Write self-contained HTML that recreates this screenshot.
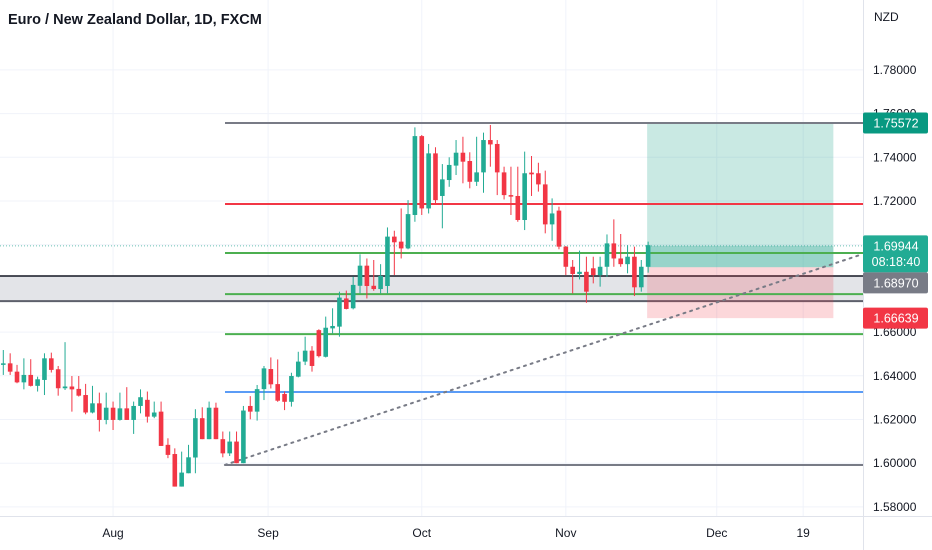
<!DOCTYPE html>
<html><head><meta charset="utf-8">
<style>
html,body{margin:0;padding:0;background:#fff;}
svg{display:block;font-family:"Liberation Sans",Arial,sans-serif;}
</style></head>
<body>
<svg id="chart" width="932" height="550" viewBox="0 0 932 550"></svg>
<script>
// ---- data ----
const opens  = [1.6450,1.6457,1.6419,1.6370,1.6404,1.6354,1.6381,1.6480,1.6430,1.6343,1.6351,1.6340,1.6312,1.6232,1.6274,1.6198,1.6254,1.6198,1.6251,1.6198,1.6262,1.6290,1.6213,1.6236,1.6084,1.6042,1.5893,1.5954,1.6026,1.6206,1.6110,1.6254,1.6110,1.6045,1.6099,1.6000,
1.6262,1.6236,1.6339,1.6431,1.6362,1.6317,1.6281,1.6396,1.6465,1.6515,1.6609,1.6487,1.6617,1.6625,1.6754,1.6709,1.6812,1.6904,1.6812,1.6797,1.6811,1.7037,1.7014,1.6983,1.7136,1.7497,1.7166,1.7418,1.7223,1.7296,1.7362,1.7421,1.7383,1.7288,1.7331,1.7479,1.7461,1.7331,1.7227,1.7223,1.7113,1.7330,1.7327,1.7276,1.7093,1.7156,1.6991,1.6899,1.6866,1.6876,1.6892,1.6861,1.6899,1.7006,1.6937,1.6911,1.6945,1.6805,1.6899];
const highs  = [1.6518,1.6503,1.6450,1.6480,1.6476,1.6396,1.6503,1.6506,1.6445,1.6554,1.6399,1.6399,1.6363,1.6354,1.6323,1.6323,1.6282,1.6323,1.6348,1.6282,1.6338,1.6328,1.6282,1.6282,1.6114,1.6068,1.6053,1.6084,1.6247,1.6256,1.6282,1.6277,1.6145,1.6145,1.6145,1.6262,
1.6307,1.6358,1.6445,1.6484,1.6475,1.6328,1.6414,1.6510,1.6579,1.6536,1.6613,1.6671,1.6709,1.6785,1.6790,1.6854,1.6956,1.6937,1.6930,1.6911,1.7079,1.7064,1.7166,1.7204,1.7537,1.7502,1.7461,1.7446,1.7369,1.7400,1.7479,1.7494,1.7423,1.7494,1.7513,1.7548,1.7479,1.7357,1.7357,1.7357,1.7426,1.7406,1.7375,1.7339,1.7212,1.7174,1.6994,1.6930,1.6973,1.6945,1.6945,1.6945,1.7047,1.7116,1.7049,1.6998,1.6991,1.6930,1.7014];
const lows   = [1.6404,1.6404,1.6366,1.6338,1.6351,1.6328,1.6312,1.6415,1.6309,1.6335,1.6236,1.6305,1.6224,1.6228,1.6145,1.6178,1.6152,1.6195,1.6198,1.6134,1.6228,1.6186,1.6206,1.6079,1.6023,1.5893,1.5893,1.5954,1.5954,1.6110,1.6110,1.6110,1.6027,1.6033,1.6000,1.6000,
1.6201,1.6195,1.6289,1.6342,1.6281,1.6243,1.6259,1.6393,1.6449,1.6419,1.6484,1.6484,1.6594,1.6579,1.6704,1.6704,1.6777,1.6754,1.6789,1.6777,1.6777,1.6861,1.6937,1.6979,1.7105,1.7136,1.7143,1.7189,1.7075,1.7265,1.7319,1.7281,1.7258,1.7269,1.7238,1.7357,1.7227,1.7207,1.7136,1.7105,1.7067,1.7223,1.7243,1.7052,1.7018,1.6979,1.6861,1.6777,1.6841,1.6734,1.6823,1.6808,1.6853,1.6899,1.6899,1.6869,1.6765,1.6785,1.6872];
const closes = [1.6457,1.6419,1.6370,1.6404,1.6354,1.6384,1.6480,1.6427,1.6343,1.6351,1.6338,1.6309,1.6232,1.6274,1.6198,1.6254,1.6198,1.6251,1.6198,1.6262,1.6302,1.6213,1.6232,1.6079,1.6038,1.5893,1.5957,1.6027,1.6206,1.6110,1.6254,1.6110,1.6045,1.6099,1.6000,1.6241,
1.6236,1.6339,1.6434,1.6361,1.6286,1.6281,1.6399,1.6465,1.6515,1.6445,1.6490,1.6620,1.6628,1.6758,1.6706,1.6816,1.6904,1.6811,1.6797,1.6857,1.7037,1.7011,1.6983,1.7140,1.7497,1.7166,1.7418,1.7204,1.7299,1.7365,1.7421,1.7380,1.7288,1.7331,1.7479,1.7459,1.7331,1.7227,1.7220,1.7113,1.7327,1.7322,1.7276,1.7093,1.7143,1.6991,1.6899,1.6866,1.6876,1.6785,1.6861,1.6899,1.7006,1.6937,1.6911,1.6945,1.6805,1.6899,1.6998];
const priceTicks = [1.58,1.60,1.62,1.64,1.66,1.68,1.70,1.72,1.74,1.76,1.78];
const tickLabels = ["1.58000","1.60000","1.62000","1.64000","1.66000","1.68000","1.70000","1.72000","1.74000","1.76000","1.78000"];
const dateIdx = [16,38.6,61,82,104,116.6];
const dateLabels = ["Aug","Sep","Oct","Nov","Dec","19"];
const levelPrices = [1.75572,1.7186,1.6962,1.6774,1.6591,1.6326,1.5992];
const levelColors = ["#787b86","#f23645","#4caf50","#4caf50","#4caf50","#5b9cf6","#787b86"];
const zone = [1.6857,1.6742];
const position = {entry:1.6897, target:1.75572, stop:1.66639, startIdx:94, endIdx:121};
const lastPrice = 1.69944;
const trend = [[32.3,1.5992],[124.9,1.6953]];

// ---- scales ----
const PLOT_R = 863, PLOT_B = 516;
const y = p => 201 + (1.72 - p) * 2185;
const x = i => 3.3 + i * 6.86;
const svg = document.getElementById('chart');
const NS = 'http://www.w3.org/2000/svg';
function mk(tag, attrs, parent){const e=document.createElementNS(NS,tag);for(const k in attrs)e.setAttribute(k,attrs[k]);(parent||svg).appendChild(e);return e;}

// grid
const grid = mk('g',{});


priceTicks.forEach(p=>{const l=mk('line',{x1:0,x2:PLOT_R,y1:y(p),y2:y(p),stroke:'#f0f3fa','stroke-width':1},grid);

});
dateIdx.forEach(i=>{const l=mk('line',{x1:x(i),x2:x(i),y1:0,y2:PLOT_B,stroke:'#f0f3fa','stroke-width':1},grid);

});

// zone
const zr = mk('rect',{x:0,y:y(zone[0]),width:PLOT_R,height:y(zone[1])-y(zone[0]),fill:'#e3e4e8'});


const zt = mk('line',{x1:0,x2:PLOT_R,y1:y(zone[0]),y2:y(zone[0]),stroke:'#131722','stroke-width':1.5});


const zb = mk('line',{x1:0,x2:PLOT_R,y1:y(zone[1]),y2:y(zone[1]),stroke:'#5d606b','stroke-width':2});



// position tool
const px1 = x(position.startIdx)-1, px2 = x(position.endIdx);
const tg = mk('rect',{x:px1,y:y(position.target),width:px2-px1,height:y(position.entry)-y(position.target),fill:'rgba(8,153,129,0.22)'});


const tg2 = mk('rect',{x:px1,y:y(lastPrice),width:px2-px1,height:y(position.entry)-y(lastPrice),fill:'rgba(8,153,129,0.25)'});


const sl = mk('rect',{x:px1,y:y(position.entry),width:px2-px1,height:y(position.stop)-y(position.entry),fill:'rgba(242,54,69,0.2)'});



// levels
levelPrices.forEach((p,k)=>{const l=mk('line',{x1:225,x2:PLOT_R,y1:y(p),y2:y(p),stroke:levelColors[k],'stroke-width':2});

});

// last price dotted line
const lp = mk('line',{x1:0,x2:PLOT_R,y1:y(lastPrice),y2:y(lastPrice),stroke:'#089981','stroke-width':1,'stroke-dasharray':'1 2',opacity:0.6});



// trendline
const tl = mk('line',{x1:x(trend[0][0]),y1:y(trend[0][1]),x2:x(trend[1][0]),y2:y(trend[1][1]),stroke:'#787b86','stroke-width':2,'stroke-dasharray':'2 5','stroke-linecap':'round'});



// candles
const cg = mk('g',{});


for(let i=0;i<opens.length;i++){
  const up = closes[i]>=opens[i];
  const col = up ? '#22ab94' : '#f23645';
  const g = mk('g',{},cg);
  
  
  const cx = x(i);
  mk('line',{x1:cx,x2:cx,y1:y(highs[i]),y2:y(lows[i]),stroke:col,'stroke-width':1},g);
  const top = y(Math.max(opens[i],closes[i])), bot = y(Math.min(opens[i],closes[i]));
  mk('rect',{x:cx-2.3,y:top,width:4.6,height:Math.max(1.2,bot-top),fill:col},g);
}

// axes
const ab = mk('line',{x1:0,x2:932,y1:PLOT_B+0.5,y2:PLOT_B+0.5,stroke:'#e0e3eb','stroke-width':1});


const ar = mk('line',{x1:PLOT_R+0.5,x2:PLOT_R+0.5,y1:0,y2:550,stroke:'#e0e3eb','stroke-width':1});



priceTicks.forEach((p,k)=>{const t=mk('text',{x:873,y:y(p)+4,'font-size':12,fill:'#131722'});t.textContent=tickLabels[k];

});
dateIdx.forEach((i,k)=>{const t=mk('text',{x:x(i),y:537,'font-size':12,fill:'#131722','text-anchor':'middle'});t.textContent=dateLabels[k];

});

// price labels
function tag(cy,color,label,name,extra){
  const h=extra?37:21;
  const g=mk('g',{});
  
  
  mk('rect',{x:PLOT_R,y:cy-10.5,width:65,height:h,rx:2,fill:color},g);
  const t=mk('text',{x:PLOT_R+33,y:cy+4.5,'font-size':12.5,fill:'#fff','text-anchor':'middle'},g);t.textContent=label;
  if(extra){const t2=mk('text',{x:PLOT_R+33,y:cy+20,'font-size':12.5,fill:'#fff','text-anchor':'middle'},g);t2.textContent=extra;}
}
tag(y(position.target),'#089981','1.75572','target-price-label');
tag(y(lastPrice),'#22ab94','1.69944','last-price-label','08:18:40');
tag(y(lastPrice)+37,'#787b86','1.68970','entry-price-label');
tag(y(position.stop),'#f23645','1.66639','stop-price-label');

const nz = mk('text',{x:874,y:21,'font-size':12,fill:'#131722'});nz.textContent='NZD';


const title = mk('text',{x:8,y:24,'font-size':14.5,fill:'#131722','font-weight':'bold'});title.textContent='Euro / New Zealand Dollar, 1D, FXCM';


</script>
</body></html>
